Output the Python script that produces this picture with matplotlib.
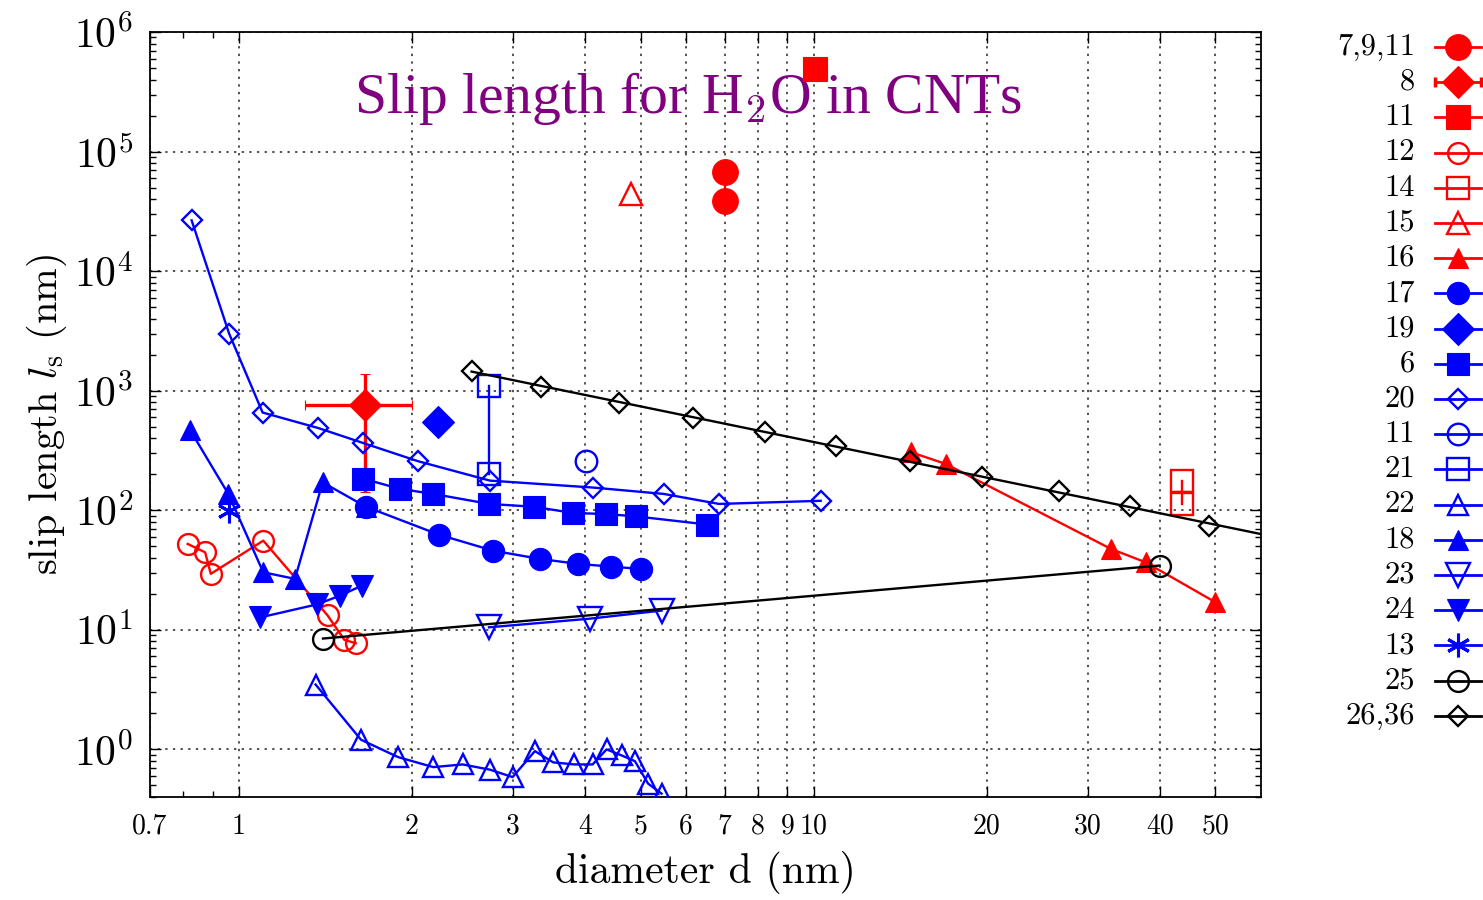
import numpy as np
import matplotlib
matplotlib.use('Agg')
import matplotlib.pyplot as plt
from matplotlib.lines import Line2D
from matplotlib.ticker import FixedLocator, NullFormatter

plt.rcParams['font.family'] = ['cmr10', 'DejaVu Serif']
plt.rcParams['mathtext.fontset'] = 'cm'
plt.rcParams['axes.formatter.use_mathtext'] = True
plt.rcParams['axes.unicode_minus'] = False

# ---------------- data (diameter d in nm, slip length in nm) ----------------
d_7911 = [7.0, 7.0]
ls_7911 = [67400, 38600]

d_8 = [1.656]
ls_8 = [762]
d_8_lo, d_8_hi = 1.30, 2.0
ls_8_lo, ls_8_hi = 143, 1384

d_11r = [10.04]
ls_11r = [4.9e5]

d_12 = [0.814, 0.873, 0.893, 1.102, 1.426, 1.525, 1.596]
ls_12 = [52.3, 44.5, 29.4, 55.7, 13.2, 8.24, 7.73]

d_14 = [43.8, 43.8]
ls_14 = [176.7, 113.5]

d_15 = [4.81]
ls_15 = [44100]

d_16 = [14.79, 16.97, 32.9, 37.8, 50.0]
ls_16 = [305, 244, 47.5, 36.7, 17.0]

d_17 = [1.663, 2.228, 2.769, 3.338, 3.89, 4.446, 5.0]
ls_17 = [107, 62.5, 45.9, 39.2, 35.6, 33.8, 32.3]

d_19 = [2.22]
ls_19 = [550]

d_6 = [1.643, 1.905, 2.178, 2.725, 3.263, 3.805, 4.347, 4.90, 6.53]
ls_6 = [184, 151, 137, 113, 107, 95, 93, 89, 76]

d_20 = [0.827, 0.961, 1.099, 1.374, 1.645, 2.05, 2.733, 4.123, 5.483, 6.842, 10.28]
ls_20 = [26600, 3006, 657, 487, 365, 257, 177, 155, 137, 113, 120]

d_11b = [4.008]
ls_11b = [256]

d_21 = [2.725, 2.725]
ls_21 = [1099, 200]

d_22 = [1.359, 1.630, 1.892, 2.178, 2.449, 2.733, 2.992, 3.272, 3.521, 3.83,
        4.123, 4.36, 4.63, 4.884, 5.15, 5.435]
ls_22 = [3.49, 1.205, 0.862, 0.711, 0.749, 0.677, 0.587, 0.968, 0.779, 0.749,
         0.749, 1.0, 0.891, 0.798, 0.517, 0.427]

d_18 = [0.822, 0.958, 1.102, 1.251, 1.398, 1.663]
ls_18 = [469, 137, 30.3, 26.7, 171, 107]

d_23 = [2.722, 4.077, 5.435]
ls_23 = [10.5, 12.4, 14.5]

d_24 = [1.088, 1.365, 1.498, 1.635]
ls_24 = [12.7, 16.3, 19.3, 23.4]

d_13 = [0.962]
ls_13 = [99.3]

d_25 = [1.40, 39.97]
ls_25 = [8.46, 34.5]

d_2636 = [2.539, 3.352, 4.58, 6.152, 8.219, 10.92, 14.69, 19.65, 26.71, 35.44, 48.7]
ls_2636 = [1466, 1079, 796, 590, 454, 347, 257, 191, 146, 109, 73.5]

x_ticks = [0.7, 1, 2, 3, 4, 5, 6, 7, 8, 9, 10, 20, 30, 40, 50]
x_tick_labels = ['0.7', '1', '2', '3', '4', '5', '6', '7', '8', '9', '10',
                 '20', '30', '40', '50']
x_minor = [0.8, 0.9]
y_ticks = [1e0, 1e1, 1e2, 1e3, 1e4, 1e5, 1e6]
y_tick_labels = ['$10^{0}$', '$10^{1}$', '$10^{2}$', '$10^{3}$', '$10^{4}$',
                 '$10^{5}$', '$10^{6}$']

title_text = 'Slip length for H$_2$O in CNTs'
x_label = 'diameter d (nm)'
y_label = r'slip length $l_\mathrm{s}$ (nm)'

RED = '#ff0000'
BLUE = '#0000ff'
BLACK = '#000000'
MEW = 1.7
LW = 1.7

asterisk = (6, 2, 0)

# label, x, y, color, marker, markersize, filled
series = [
    ('7,9,11', d_7911, ls_7911, RED, 'o', 18.5, True),
    ('8', d_8, ls_8, RED, 'D', 16.5, True),
    ('11', d_11r, ls_11r, RED, 's', 17.5, True),
    ('12', d_12, ls_12, RED, 'o', 15.0, False),
    ('14', d_14, ls_14, RED, 's', 15.5, False),
    ('15', d_15, ls_15, RED, '^', 16.0, False),
    ('16', d_16, ls_16, RED, '^', 14.5, True),
    ('17', d_17, ls_17, BLUE, 'o', 16.0, True),
    ('19', d_19, ls_19, BLUE, 'D', 16.5, True),
    ('6', d_6, ls_6, BLUE, 's', 15.5, True),
    ('20', d_20, ls_20, BLUE, 'D', 10.5, False),
    ('11', d_11b, ls_11b, BLUE, 'o', 15.5, False),
    ('21', d_21, ls_21, BLUE, 's', 15.5, False),
    ('22', d_22, ls_22, BLUE, '^', 15.0, False),
    ('18', d_18, ls_18, BLUE, '^', 15.0, True),
    ('23', d_23, ls_23, BLUE, 'v', 17.0, False),
    ('24', d_24, ls_24, BLUE, 'v', 15.5, True),
    ('13', d_13, ls_13, BLUE, asterisk, 17.0, False),
    ('25', d_25, ls_25, BLACK, 'o', 15.0, False),
    ('26,36', d_2636, ls_2636, BLACK, 'D', 10.5, False),
]

W, H = 1483, 900
fig = plt.figure(figsize=(W / 100, H / 100), dpi=100)
fig.patch.set_facecolor('white')
ax = fig.add_axes([150 / W, 1 - 797 / H, (1261 - 150) / W, (797 - 32) / H])
ax.set_xscale('log')
ax.set_yscale('log')


def mstyle(color, marker, ms, filled):
    if marker == asterisk:
        return dict(marker=marker, ms=ms, mec=color, mfc=color, mew=2.2)
    if filled:
        return dict(marker=marker, ms=ms, mec=color, mfc=color, mew=0.8)
    return dict(marker=marker, ms=ms, mec=color, mfc='none', mew=MEW)


for i, (lab, xs, ys, col, mk, ms, filled) in enumerate(series):
    st = mstyle(col, mk, ms, filled)
    z = 3 + i * 0.01
    if lab == '17':
        z = 4
    if lab == '8':
        xe = [[xs[0] - d_8_lo], [d_8_hi - xs[0]]]
        ye = [[ys[0] - ls_8_lo], [ls_8_hi - ys[0]]]
        ax.errorbar(xs, ys, xerr=xe, yerr=ye, color=col, lw=2.4, capsize=3.5,
                    capthick=2.5, ls='none', zorder=z, **st)
    elif lab == '26,36':
        ax.plot(xs, ys, ls='none', color=col, zorder=z, **st)
        p = np.polyfit(np.log10(xs), np.log10(ys), 1)
        xx = np.array([xs[0], 70.0])
        ax.plot(xx, 10 ** np.polyval(p, np.log10(xx)), color=col, lw=LW, zorder=z)
    else:
        ax.plot(xs, ys, color=col, lw=LW, zorder=z, **st)
        if lab == '14':
            ax.plot([np.mean(xs)], [np.sqrt(ys[0] * ys[1])], marker='_', ms=11.5,
                    mew=LW, color=col, zorder=z)

ax.set_xlim(0.7, 60)
ax.set_ylim(0.4, 1e6)

ax.xaxis.set_major_locator(FixedLocator(x_ticks))
ax.set_xticklabels(x_tick_labels)
ax.xaxis.set_minor_locator(FixedLocator(x_minor))
ax.xaxis.set_minor_formatter(NullFormatter())
ax.yaxis.set_major_locator(FixedLocator(y_ticks))
ax.set_yticklabels(y_tick_labels)
y_minor = [m * 10.0 ** e for e in range(-1, 6) for m in range(2, 10)
           if 0.4 <= m * 10.0 ** e <= 1e6]
ax.yaxis.set_minor_locator(FixedLocator(y_minor))
ax.yaxis.set_minor_formatter(NullFormatter())

ax.tick_params(which='both', direction='in', top=True, right=True, colors='black')
ax.tick_params(which='major', length=8, width=1.0)
ax.tick_params(which='minor', length=4.5, width=1.0)
ax.tick_params(axis='x', which='major', labelsize=20, pad=12)
ax.tick_params(axis='y', which='major', labelsize=30, pad=12)

ax.grid(True, which='major', color='#222222', ls=(0, (1.5, 3.5)), lw=1.1)
for sp in ax.spines.values():
    sp.set_linewidth(1.3)

ax.set_xlabel(x_label, fontsize=30, labelpad=8)
ax.set_ylabel(y_label, fontsize=29, labelpad=4)

ax.text(0.484, 0.913, title_text, transform=ax.transAxes, ha='center', va='center',
        color='#800080', fontsize=41.5, family=['Liberation Serif'], zorder=2)

# legend (labels right aligned, symbol on the right)
lx0, lx1, lxm = 1435 / W, 1481 / W, 1458 / W
tx = 1415 / W
for i, (lab, xs, ys, col, mk, ms, filled) in enumerate(series):
    yf = 1 - (47 + i * 35.2) / H
    fig.add_artist(Line2D([lx0, lx1], [yf, yf], transform=fig.transFigure,
                          color=col, lw=2.0))
    if lab == '8':
        for xc in (lx0, lx1):
            fig.add_artist(Line2D([xc], [yf], transform=fig.transFigure, marker='|',
                                  ms=7, mew=2.5, color=col))
    st = mstyle(col, mk, ms, filled)
    fig.add_artist(Line2D([lxm], [yf], transform=fig.transFigure, ls='none', **st))
    fig.text(tx, yf, lab, ha='right', va='center', fontsize=22)

fig.savefig('out.png', dpi=100)
